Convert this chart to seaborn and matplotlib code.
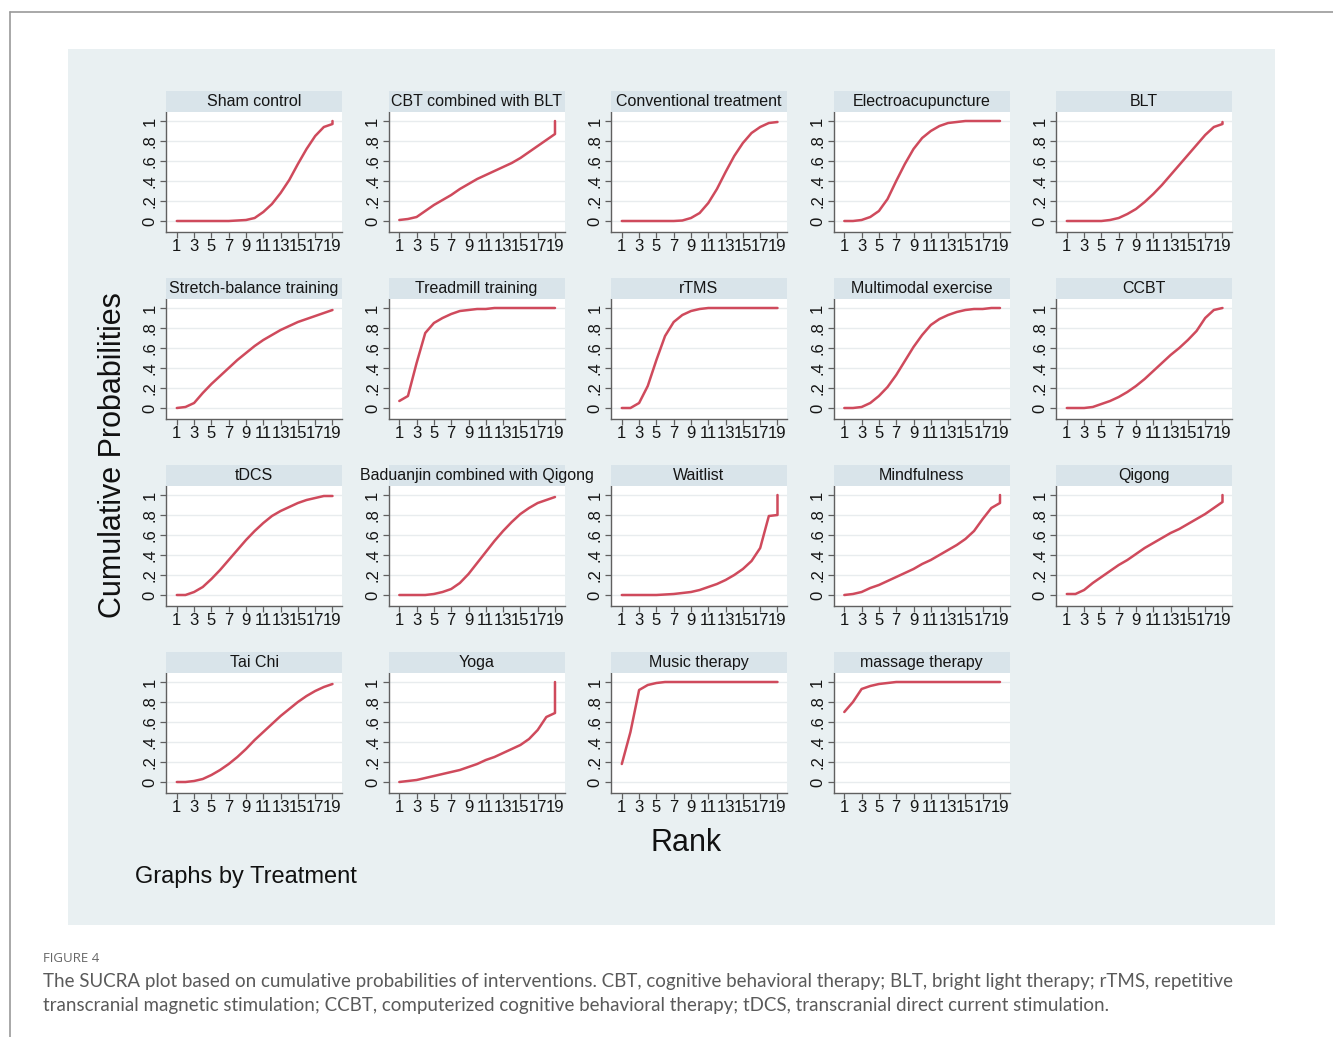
import matplotlib
matplotlib.use("Agg")
import matplotlib.pyplot as plt
from matplotlib.patches import Rectangle
import seaborn as sns
import numpy as np
import pandas as pd

# cumulative probability by rank (1..19); a 20th value is the jump at rank 19
sham_control = [0, 0, 0, 0, 0, 0, 0, 0.005, 0.01, 0.03, 0.09, 0.17, 0.28, 0.41, 0.57, 0.72, 0.85, 0.94, 0.97, 1.0]
cbt_blt = [0.01, 0.02, 0.04, 0.10, 0.16, 0.21, 0.26, 0.32, 0.37, 0.42, 0.46, 0.50, 0.54, 0.58, 0.63, 0.69, 0.75, 0.81, 0.87, 1.0]
conventional = [0, 0, 0, 0, 0, 0, 0, 0.005, 0.03, 0.08, 0.18, 0.32, 0.49, 0.65, 0.78, 0.88, 0.94, 0.98, 0.99]
electroacupuncture = [0, 0, 0.01, 0.04, 0.10, 0.22, 0.40, 0.57, 0.72, 0.83, 0.90, 0.95, 0.98, 0.99, 1, 1, 1, 1, 1]
blt = [0, 0, 0, 0, 0, 0.01, 0.03, 0.07, 0.12, 0.19, 0.27, 0.36, 0.46, 0.56, 0.66, 0.76, 0.86, 0.94, 0.97, 0.99]
stretch_balance = [0, 0.01, 0.05, 0.15, 0.24, 0.32, 0.40, 0.48, 0.55, 0.62, 0.68, 0.73, 0.78, 0.82, 0.86, 0.89, 0.92, 0.95, 0.98]
treadmill = [0.07, 0.12, 0.45, 0.75, 0.85, 0.90, 0.94, 0.97, 0.98, 0.99, 0.99, 1, 1, 1, 1, 1, 1, 1, 1]
rtms = [0, 0, 0.05, 0.22, 0.48, 0.72, 0.86, 0.93, 0.97, 0.99, 1, 1, 1, 1, 1, 1, 1, 1, 1]
multimodal = [0, 0, 0.01, 0.05, 0.12, 0.21, 0.33, 0.47, 0.61, 0.73, 0.83, 0.89, 0.93, 0.96, 0.98, 0.99, 0.99, 1, 1]
ccbt = [0, 0, 0, 0.01, 0.04, 0.07, 0.11, 0.16, 0.22, 0.29, 0.37, 0.45, 0.53, 0.60, 0.68, 0.77, 0.90, 0.98, 1.0]
tdcs = [0, 0, 0.03, 0.08, 0.16, 0.25, 0.35, 0.45, 0.55, 0.64, 0.72, 0.79, 0.84, 0.88, 0.92, 0.95, 0.97, 0.99, 0.99]
baduanjin_qigong = [0, 0, 0, 0, 0.01, 0.03, 0.06, 0.12, 0.21, 0.32, 0.43, 0.54, 0.64, 0.73, 0.81, 0.87, 0.92, 0.95, 0.98]
waitlist = [0, 0, 0, 0, 0, 0.005, 0.01, 0.02, 0.03, 0.05, 0.08, 0.11, 0.15, 0.20, 0.26, 0.34, 0.47, 0.79, 0.80, 1.0]
mindfulness = [0, 0.01, 0.03, 0.07, 0.10, 0.14, 0.18, 0.22, 0.26, 0.31, 0.35, 0.40, 0.45, 0.50, 0.56, 0.64, 0.76, 0.87, 0.92, 1.0]
qigong = [0.01, 0.01, 0.05, 0.12, 0.18, 0.24, 0.30, 0.35, 0.41, 0.47, 0.52, 0.57, 0.62, 0.66, 0.71, 0.76, 0.81, 0.87, 0.93, 1.0]
tai_chi = [0, 0, 0.01, 0.03, 0.07, 0.12, 0.18, 0.25, 0.33, 0.42, 0.50, 0.58, 0.66, 0.73, 0.80, 0.86, 0.91, 0.95, 0.98]
yoga = [0, 0.01, 0.02, 0.04, 0.06, 0.08, 0.10, 0.12, 0.15, 0.18, 0.22, 0.25, 0.29, 0.33, 0.37, 0.43, 0.52, 0.65, 0.69, 1.0]
music_therapy = [0.18, 0.50, 0.92, 0.97, 0.99, 1, 1, 1, 1, 1, 1, 1, 1, 1, 1, 1, 1, 1, 1]
massage_therapy = [0.70, 0.80, 0.93, 0.96, 0.98, 0.99, 1, 1, 1, 1, 1, 1, 1, 1, 1, 1, 1, 1, 1]

treatments = ["Sham control", "CBT combined with BLT", "Conventional treatment", "Electroacupuncture", "BLT",
              "Stretch-balance training", "Treadmill training", "rTMS", "Multimodal exercise", "CCBT",
              "tDCS", "Baduanjin combined with Qigong", "Waitlist", "Mindfulness", "Qigong",
              "Tai Chi", "Yoga", "Music therapy", "massage therapy"]
series = [sham_control, cbt_blt, conventional, electroacupuncture, blt,
          stretch_balance, treadmill, rtms, multimodal, ccbt,
          tdcs, baduanjin_qigong, waitlist, mindfulness, qigong,
          tai_chi, yoga, music_therapy, massage_therapy]
x_ticks = [1, 3, 5, 7, 9, 11, 13, 15, 17, 19]
y_ticks = [0, 0.2, 0.4, 0.6, 0.8, 1]
y_labels = ["0", ".2", ".4", ".6", ".8", "1"]

rows = []
for name, vals in zip(treatments, series):
    ranks = list(range(1, 20)) + [19] * (len(vals) - 19)
    for r, v in zip(ranks, vals):
        rows.append({"Treatment": name, "Rank": r, "Prob": v})
df = pd.DataFrame(rows)

sns.set_style("white")
plt.rcParams["font.family"] = ["Liberation Sans", "DejaVu Sans"]

W, H = 1333, 1037
fig = plt.figure(figsize=(W / 100, H / 100), dpi=100)
fig.patch.set_facecolor("white")

def fx(x):
    return x / W

def fy(y):
    return 1 - y / H

# outer page rule and stata graph region
fig.add_artist(plt.Line2D([fx(10), fx(10)], [fy(12), 0], color="#9a9a9a", lw=1.2))
fig.add_artist(plt.Line2D([fx(10), 1], [fy(12), fy(12)], color="#9a9a9a", lw=1.2))
fig.add_artist(Rectangle((fx(68), fy(925)), fx(1275 - 68), (925 - 49) / H,
                         facecolor="#e9f0f2", edgecolor="none", zorder=0))

col_left = [166, 388.5, 611, 833.5, 1056]
row_top = [112, 299, 486, 673]
pw, ph = 176, 120
red = "#cf4a5c"

for i, name in enumerate(treatments):
    r, c = divmod(i, 5)
    left, top = col_left[c], row_top[r]
    # strip
    fig.add_artist(Rectangle((fx(left), fy(top)), fx(pw), 21 / H,
                             facecolor="#d9e4ea", edgecolor="none", zorder=1))
    fig.text(fx(left + pw / 2), fy(top - 10.5), name, ha="center", va="center",
             fontsize=11.5, color="#151515", zorder=3)
    ax = fig.add_axes([fx(left), fy(top + ph), fx(pw), ph / H])
    ax.set_facecolor("white")
    sub = df[df["Treatment"] == name]
    sns.lineplot(data=sub, x="Rank", y="Prob", ax=ax, color=red, lw=1.8,
                 estimator=None, sort=False)
    ax.set_xlim(-0.25, 20.1)
    ax.set_ylim(-0.11, 1.09)
    ax.set_xticks(x_ticks)
    ax.set_xticklabels([str(t) for t in x_ticks])
    ax.set_yticks(y_ticks)
    ax.set_yticklabels(y_labels, rotation=90, va="center")
    ax.set_xlabel("")
    ax.set_ylabel("")
    ax.grid(axis="y", color="#e8ecee", lw=1.0)
    ax.grid(axis="x", visible=False)
    for s in ["top", "right"]:
        ax.spines[s].set_visible(False)
    for s in ["left", "bottom"]:
        ax.spines[s].set_color("#606060")
        ax.spines[s].set_linewidth(1.0)
    ax.tick_params(axis="both", direction="out", length=4, width=0.9, color="#606060",
                   labelsize=12, labelcolor="#151515", pad=2, left=True, bottom=True)
    ax.tick_params(axis="x", pad=1)

fig.text(fx(113), fy(455), "Cumulative Probabilities", rotation=90, ha="center", va="center",
         fontsize=22, color="#111111")
fig.text(fx(686), fy(843), "Rank", ha="center", va="center", fontsize=22, color="#111111")
fig.text(fx(135), fy(877), "Graphs by Treatment", ha="left", va="center", fontsize=17, color="#111111")

fig.text(fx(43), fy(958), "FIGURE 4", ha="left", va="center", fontsize=9.5, color="#666666",
         family=["Open Sans", "DejaVu Sans"])
fig.text(fx(43), fy(982), "The SUCRA plot based on cumulative probabilities of interventions. CBT, cognitive "
         "behavioral therapy; BLT, bright light therapy; rTMS, repetitive", ha="left", va="center",
         fontsize=13.5, color="#5a5a5a", family=["Lato", "DejaVu Sans"])
fig.text(fx(43), fy(1005), "transcranial magnetic stimulation; CCBT, computerized cognitive behavioral therapy; "
         "tDCS, transcranial direct current stimulation.", ha="left", va="center",
         fontsize=13.5, color="#5a5a5a", family=["Lato", "DejaVu Sans"])

fig.savefig("out.png", dpi=100, facecolor="white")
